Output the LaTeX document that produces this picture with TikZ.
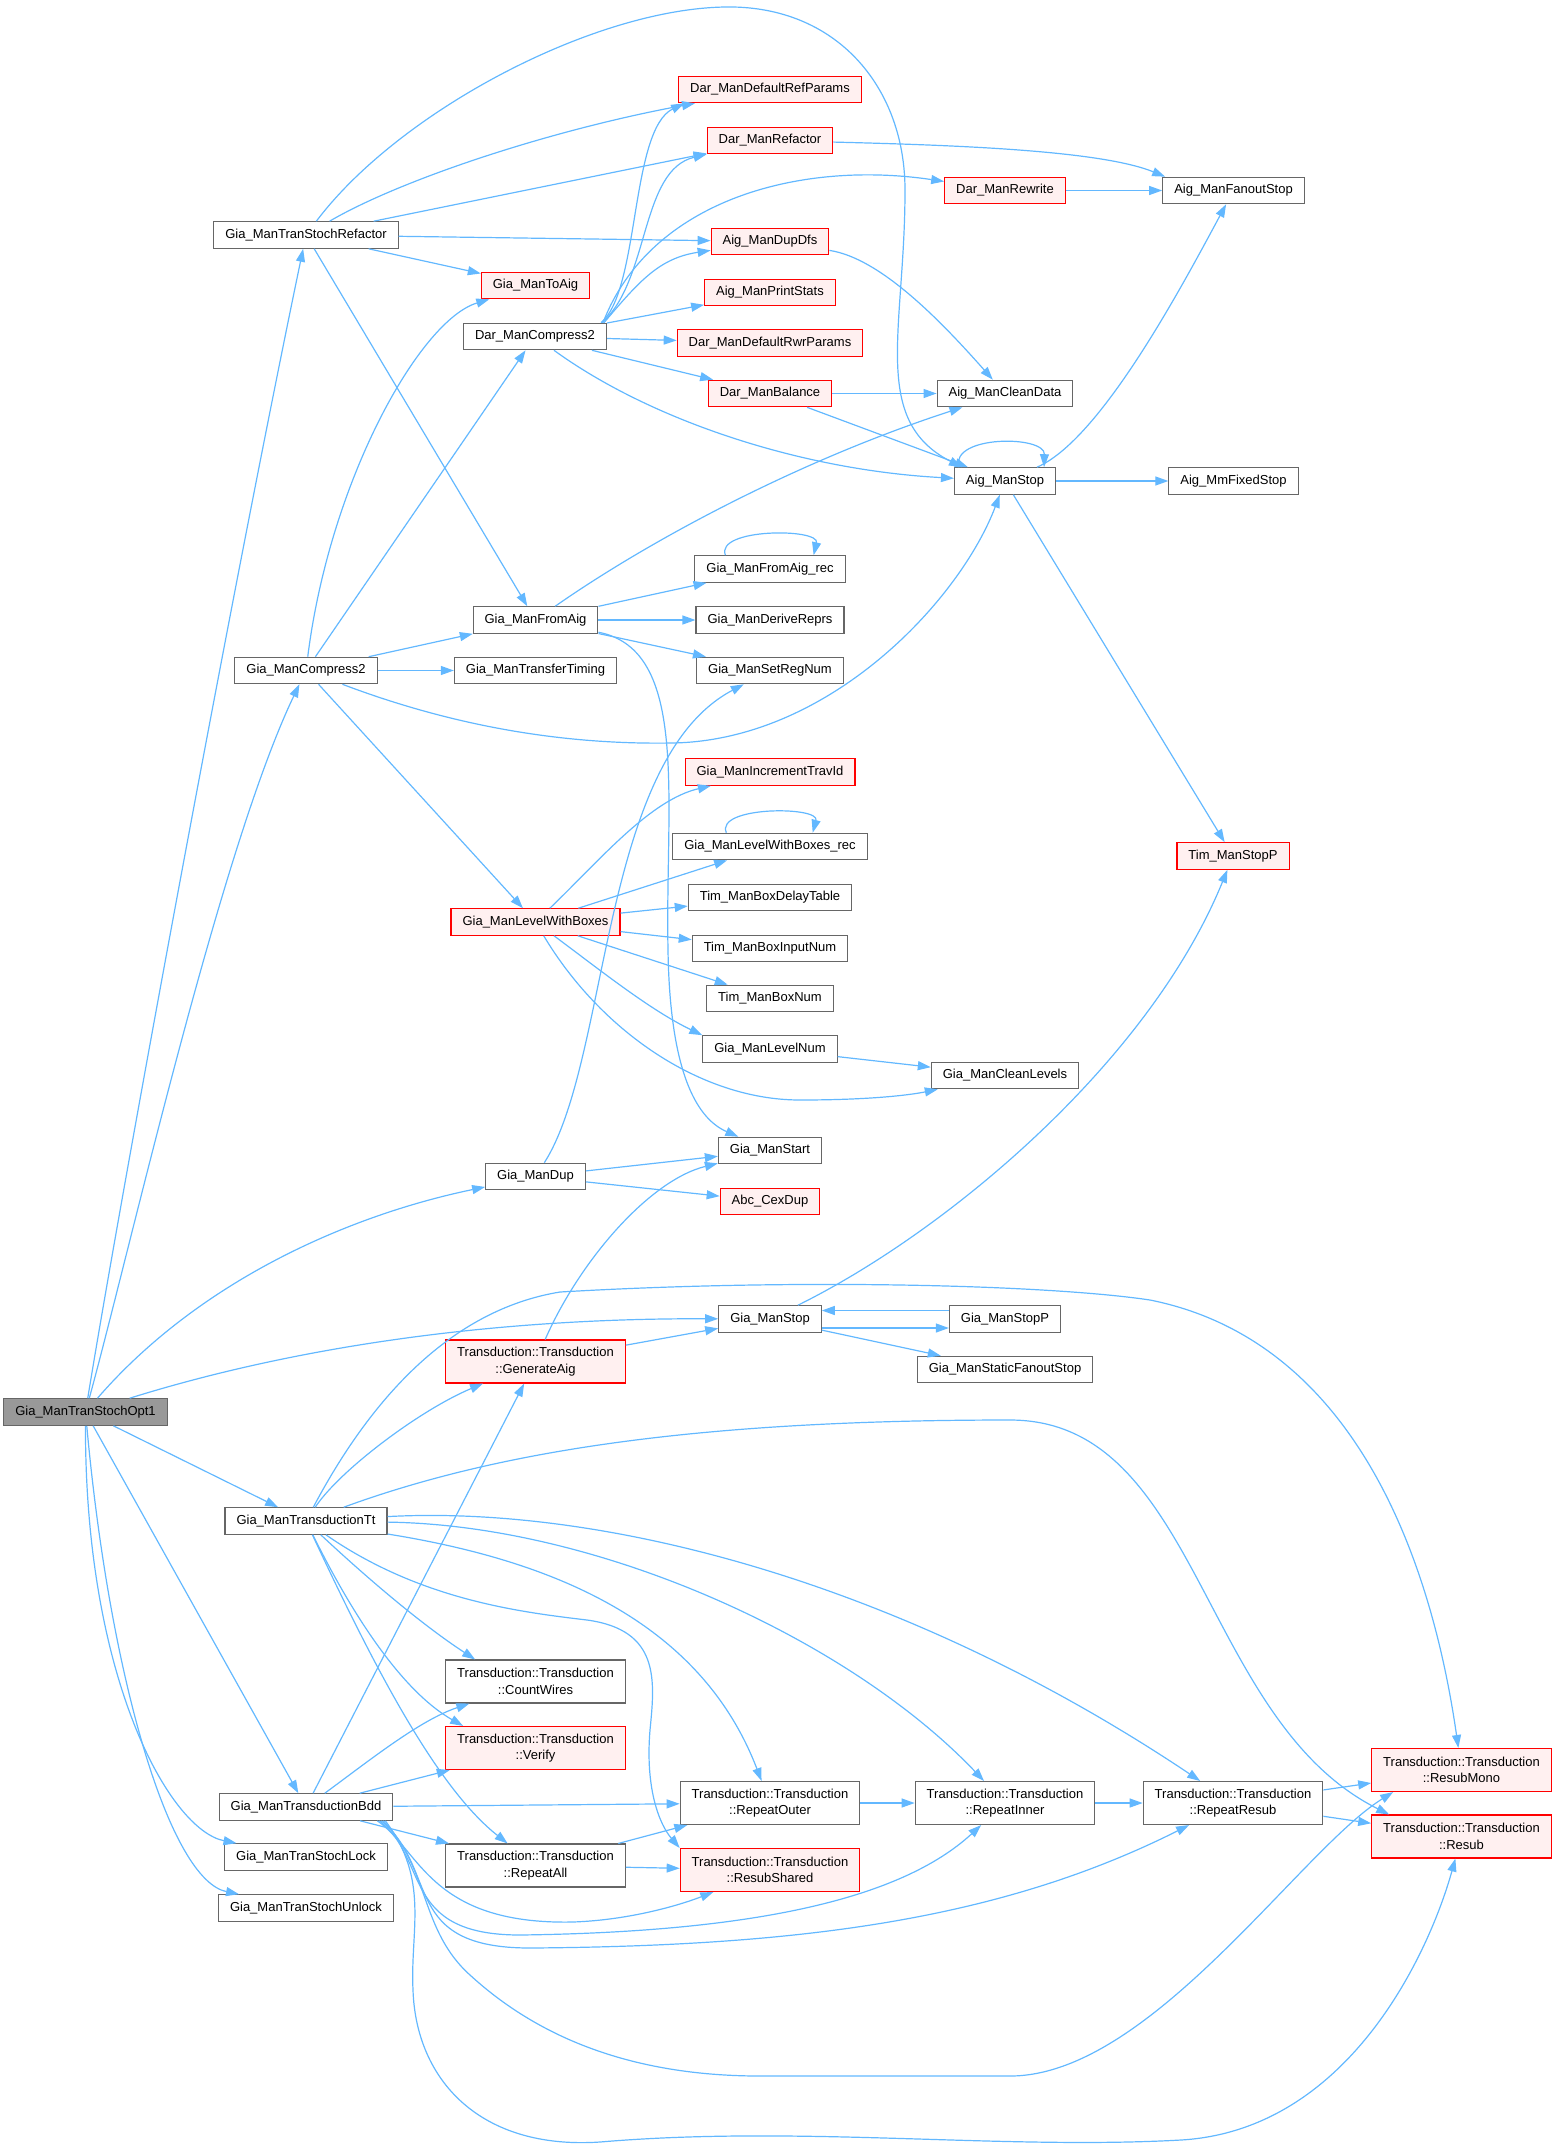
\documentclass[tikz,border=0pt]{standalone}
\usepackage{fontspec}
\setmainfont{Liberation Sans}
\usepackage{tikz}
\usetikzlibrary{arrows.meta}
\definecolor{edgeblue}{HTML}{63B8FF}
\definecolor{boxgray}{HTML}{666666}
\definecolor{rootgray}{HTML}{999999}
\definecolor{redfill}{HTML}{FFF0F0}

\begin{document}
\begin{tikzpicture}[
  x=1pt, y=-1pt,
  > = {Triangle[length=13pt,width=9pt]},
  fn/.style = {draw=boxgray, line width=1.1pt, fill=white, inner xsep=11.5pt, inner ysep=0pt, minimum height=26.5pt, font=\fontsize{13}{16.5}\selectfont},
  fnred/.style = {fn, draw=red, fill=redfill},
  fnroot/.style = {fn, fill=rootgray},
  twoline/.style = {align=center, minimum height=43pt},
  call/.style = {->, draw=edgeblue, line width=1.2pt}
  ]
	\useasboundingbox (0,0) rectangle (1554,2154);

	\node[fnroot] (opt1) at (85.5,1412) {Gia\_ManTranStochOpt1};
	\node[fn] (refac) at (306,235) {Gia\_ManTranStochRefactor};
	\node[fn] (gcomp) at (306,670.5) {Gia\_ManCompress2};
	\node[fn] (tt) at (306,1521) {Gia\_ManTransductionTt};
	\node[fn] (bdd) at (306,1807) {Gia\_ManTransductionBdd};
	\node[fn] (lock) at (306,1857) {Gia\_ManTranStochLock};
	\node[fn] (unlock) at (306,1908) {Gia\_ManTranStochUnlock};

	\node[fnred] (toaig) at (535.5,285.5) {Gia\_ManToAig};
	\node[fn] (dcomp) at (535,336.5) {Dar\_ManCompress2};
	\node[fn] (fromaig) at (535.5,620) {Gia\_ManFromAig};
	\node[fn] (timing) at (535.5,670.5) {Gia\_ManTransferTiming};
	\node[fnred] (lwb) at (535.5,922) {Gia\_ManLevelWithBoxes};
	\node[fn] (gdup) at (535.5,1176.5) {Gia\_ManDup};
	\node[fnred,twoline] (genaig) at (535.5,1361.5) {Transduction::Transduction\\::GenerateAig};
	\node[fn,twoline] (count) at (535.5,1681.5) {Transduction::Transduction\\::CountWires};
	\node[fnred,twoline] (verify) at (535.5,1748) {Transduction::Transduction\\::Verify};
	\node[fn,twoline] (rall) at (535.5,1865.5) {Transduction::Transduction\\::RepeatAll};

	\node[fnred] (refpar) at (770,89.5) {Dar\_ManDefaultRefParams};
	\node[fnred] (darref) at (770,140.5) {Dar\_ManRefactor};
	\node[fnred] (dupdfs) at (770,241.5) {Aig\_ManDupDfs};
	\node[fnred] (prst) at (770,292.5) {Aig\_ManPrintStats};
	\node[fnred] (rwrpar) at (770,343) {Dar\_ManDefaultRwrParams};
	\node[fnred] (bal) at (770,393.5) {Dar\_ManBalance};
	\node[fn] (farec) at (770,569) {Gia\_ManFromAig\_rec};
	\node[fn] (drepr) at (770,620) {Gia\_ManDeriveReprs};
	\node[fn] (setreg) at (770,670.5) {Gia\_ManSetRegNum};
	\node[fnred] (travid) at (770,772) {Gia\_ManIncrementTravId};
	\node[fn] (lwbrec) at (770,846.5) {Gia\_ManLevelWithBoxes\_rec};
	\node[fn] (delay) at (770,897.5) {Tim\_ManBoxDelayTable};
	\node[fn] (inum) at (770,948.5) {Tim\_ManBoxInputNum};
	\node[fn] (bnum) at (770,998.5) {Tim\_ManBoxNum};
	\node[fn] (lnum) at (770,1049) {Gia\_ManLevelNum};
	\node[fn] (start) at (770,1150.5) {Gia\_ManStart};
	\node[fnred] (cex) at (770,1201.5) {Abc\_CexDup};
	\node[fn] (gstop) at (770,1319) {Gia\_ManStop};
	\node[fn,twoline] (rout) at (770,1803) {Transduction::Transduction\\::RepeatOuter};
	\node[fnred,twoline] (rshr) at (770,1870) {Transduction::Transduction\\::ResubShared};

	\node[fnred] (rewr) at (1005,190.5) {Dar\_ManRewrite};
	\node[fn] (clean) at (1005,393.5) {Aig\_ManCleanData};
	\node[fn] (astop) at (1005,481) {Aig\_ManStop};
	\node[fn] (clev) at (1005,1075.5) {Gia\_ManCleanLevels};
	\node[fn] (stopp) at (1005,1319) {Gia\_ManStopP};
	\node[fn] (sfan) at (1005,1369.5) {Gia\_ManStaticFanoutStop};
	\node[fn,twoline] (rinn) at (1005,1803) {Transduction::Transduction\\::RepeatInner};

	\node[fn] (fan) at (1233.5,190.5) {Aig\_ManFanoutStop};
	\node[fn] (mmfix) at (1233.5,481) {Aig\_MmFixedStop};
	\node[fnred] (timp) at (1233,856) {Tim\_ManStopP};
	\node[fn,twoline] (rres) at (1233,1803) {Transduction::Transduction\\::RepeatResub};

	\node[fnred,twoline] (rmono) at (1461.5,1770) {Transduction::Transduction\\::ResubMono};
	\node[fnred,twoline] (resub) at (1461.5,1836.5) {Transduction::Transduction\\::Resub};

	\draw[call] (opt1) .. controls (120,1200) and (230,600) .. (refac);
	\draw[call] (opt1) .. controls (130,1250) and (220,850) .. (gcomp);
	\draw[call] (opt1) .. controls (200,1280) and (350,1215) .. (gdup);
	\draw[call] (opt1) .. controls (300,1345) and (500,1318) .. (gstop);
	\draw[call] (opt1) -- (tt);
	\draw[call] (opt1) -- (bdd);
	\draw[call] (opt1) .. controls (85,1680) and (170,1830) .. (lock);
	\draw[call] (opt1) .. controls (110,1680) and (170,1880) .. (unlock);

	\draw[call] (refac) .. controls (400,110) and (600,5) .. (733,7) .. controls (840,9) and (905,90) .. (905,190) .. controls (905,330) and (870,420) .. ([xshift=8pt]astop.north west);
	\draw[call] (refac) .. controls (400,180) and (550,130) .. (refpar);
	\draw[call] (refac) -- (darref);
	\draw[call] (refac) -- (dupdfs);
	\draw[call] (refac) -- (toaig);
	\draw[call] (refac) -- (fromaig);

	\draw[call] (gcomp) .. controls (330,480) and (420,320) .. (toaig);
	\draw[call] (gcomp) -- (dcomp);
	\draw[call] (gcomp) -- (fromaig);
	\draw[call] (gcomp) -- (timing);
	\draw[call] (gcomp) .. controls (450,725) and (560,745) .. (673,743) .. controls (830,740) and (960,600) .. (astop);
	\draw[call] (gcomp) -- (lwb);

	\draw[call] ([xshift=-6pt]dcomp.north east) .. controls (640,290) and (630,130) .. ([xshift=6pt]refpar.south west);
	\draw[call] ([xshift=-5pt]dcomp.north east) .. controls (650,280) and (640,170) .. (darref.south west);
	\draw[call] ([xshift=-4pt]dcomp.north east) .. controls (650,200) and (800,160) .. (rewr);
	\draw[call] ([xshift=-3pt]dcomp.north east) .. controls (640,280) and (660,258) .. (dupdfs);
	\draw[call] (dcomp) -- (prst);
	\draw[call] (dcomp) -- (rwrpar);
	\draw[call] (dcomp) -- (bal);
	\draw[call] (dcomp) .. controls (650,420) and (800,470) .. (astop);

	\draw[call] (darref) .. controls (950,145) and (1100,150) .. ([xshift=3pt]fan.north west);
	\draw[call] (rewr) -- (fan);
	\draw[call] (dupdfs) .. controls (880,258) and (940,320) .. (clean);
	\draw[call] (bal) -- (clean);
	\draw[call] (bal) -- (astop);
	\draw[call] ([xshift=5pt]astop.north west) .. controls (950,435) and (1045,435) .. ([xshift=-12pt]astop.north east);
	\draw[call] (astop) .. controls (1100,440) and (1180,290) .. (fan);
	\draw[call] (astop) -- (mmfix);
	\draw[call] (astop) -- (timp);

	\draw[call] (fromaig) .. controls (650,540) and (800,460) .. (clean);
	\draw[call] (fromaig) -- (farec);
	\draw[call] (fromaig) -- (drepr);
	\draw[call] (fromaig) -- (setreg);
	\draw[call] (fromaig) .. controls (690,650) and (665,800) .. (668,950) .. controls (670,1080) and (700,1120) .. (start);
	\draw[call] ([xshift=31pt]farec.north west) .. controls (715,528) and (820,528) .. ([xshift=-32pt]farec.north east);

	\draw[call] (gdup) .. controls (610,1060) and (600,760) .. (setreg);
	\draw[call] (gdup) -- (start);
	\draw[call] (gdup) -- (cex);

	\draw[call] (lwb) .. controls (600,860) and (650,800) .. (travid);
	\draw[call] (lwb) -- (lwbrec);
	\draw[call] (lwb) -- (delay);
	\draw[call] (lwb) -- (inum);
	\draw[call] (lwb) -- (bnum);
	\draw[call] (lwb) .. controls (600,970) and (650,1010) .. (lnum.north west);
	\draw[call] (lwb) .. controls (600,1030) and (700,1100) .. (800,1100) .. controls (870,1100) and (910,1095) .. (clev);
	\draw[call] ([xshift=54pt]lwbrec.north west) .. controls (715,806) and (820,806) .. ([xshift=-55pt]lwbrec.north east);
	\draw[call] (lnum) -- (clev);

	\draw[call] (genaig) .. controls (580,1260) and (650,1180) .. (start);
	\draw[call] (genaig) -- (gstop);

	\draw[call] ([yshift=-9pt]gstop.east) -- ([yshift=-9pt]stopp.west);
	\draw[call] ([yshift=8.5pt]stopp.west) -- ([yshift=8.5pt]gstop.east);
	\draw[call] (gstop) -- (sfan);
	\draw[call] (gstop) .. controls (950,1230) and (1150,1060) .. (timp);

	\draw[call] (tt) .. controls (340,1470) and (420,1410) .. (genaig);
	\draw[call] (tt) .. controls (370,1400) and (450,1310) .. (560,1292) .. controls (800,1278) and (1050,1285) .. (1150,1300) .. controls (1350,1340) and (1430,1550) .. (rmono);
	\draw[call] (tt) .. controls (500,1450) and (700,1420) .. (1010,1420) .. controls (1200,1420) and (1200,1720) .. ([xshift=18pt]resub.north west);
	\draw[call] (tt) .. controls (600,1505) and (900,1580) .. (rres);
	\draw[call] (tt) .. controls (600,1525) and (850,1640) .. (rinn);
	\draw[call] (tt) .. controls (550,1560) and (700,1620) .. (rout);
	\draw[call] (tt) .. controls (420,1600) and (520,1612) .. (587,1620) .. controls (660,1630) and (655,1680) .. (650,1730) .. controls (645,1790) and (660,1825) .. (rshr.north west);
	\draw[call] (tt) .. controls (380,1590) and (430,1630) .. ([xshift=30pt]count.north west);
	\draw[call] (tt) .. controls (350,1610) and (400,1690) .. ([xshift=18pt]verify.north west);
	\draw[call] (tt) .. controls (380,1680) and (440,1790) .. (rall);

	\draw[call] (bdd) -- (genaig);
	\draw[call] (bdd) .. controls (370,1760) and (420,1720) .. (count);
	\draw[call] (bdd) -- (verify);
	\draw[call] (bdd) -- (rout);
	\draw[call] (bdd) -- (rall);
	\draw[call] ([xshift=-16pt]bdd.south east) .. controls (420,1850) and (430,1925) .. (573,1922) .. controls (630,1920) and (680,1905) .. (rshr);
	\draw[call] ([xshift=-14pt]bdd.south east) .. controls (430,1860) and (400,1935) .. (520,1935) .. controls (750,1932) and (900,1900) .. (rinn);
	\draw[call] ([xshift=-12pt]bdd.south east) .. controls (440,1870) and (400,1948) .. (530,1948) .. controls (800,1946) and (1000,1920) .. (rres);
	\draw[call] ([xshift=-10pt]bdd.south east) .. controls (430,1870) and (420,1930) .. (470,1975) .. controls (530,2030) and (620,2076) .. (760,2076) -- (1010,2076) .. controls (1150,2076) and (1300,1850) .. ([xshift=22pt]rmono.south west);
	\draw[call] ([xshift=-8pt]bdd.south east) .. controls (430,1880) and (410,1930) .. (413,1990) .. controls (416,2080) and (480,2150) .. (600,2142) .. controls (800,2125) and (1000,2150) .. (1181,2140) .. controls (1350,2130) and (1430,1950) .. (resub);

	\draw[call] (rall) -- (rout);
	\draw[call] (rall) -- (rshr);
	\draw[call] (rout) -- (rinn);
	\draw[call] (rinn) -- (rres);
	\draw[call] (rres) -- (rmono);
	\draw[call] (rres) -- (resub);

\end{tikzpicture}
\end{document}
